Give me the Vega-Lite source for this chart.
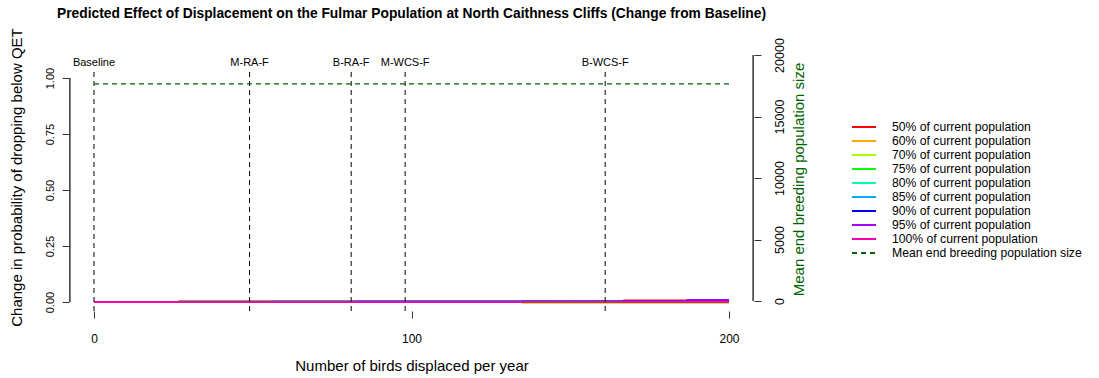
{
  "$schema": "https://vega.github.io/schema/vega-lite/v6.json",
  "autosize": {"type": "none"},
  "width": 685,
  "height": 256,
  "padding": {"left": 69, "top": 55, "right": 345, "bottom": 67},
  "config": {
    "font": "Liberation Sans",
    "view": {"stroke": null},
    "axis": {"grid": false, "domain": false, "tickColor": "#333", "tickSize": 7, "tickWidth": 1, "labelColor": "#000", "labelFontSize": 11, "titleFontSize": 14, "titleFontWeight": "normal", "titleColor": "#000", "labelFont": "Liberation Sans", "titleFont": "Liberation Sans"}
  },
  "title": {"text": "Predicted Effect of Displacement on the Fulmar Population at North Caithness Cliffs (Change from Baseline)", "fontSize": 13.8, "fontWeight": "bold", "font": "Liberation Sans", "anchor": "middle", "offset": 7, "color": "#000"},
  "datasets": {
    "prob": [
      {"x": 0, "v": 0, "series": "50% of current population"},
      {"x": 27, "v": 0.005, "series": "50% of current population"},
      {"x": 56, "v": 0, "series": "50% of current population"},
      {"x": 83, "v": 0.002, "series": "50% of current population"},
      {"x": 135, "v": 0.002, "series": "50% of current population"},
      {"x": 167, "v": 0.007, "series": "50% of current population"},
      {"x": 187, "v": 0.006, "series": "50% of current population"},
      {"x": 200, "v": 0.006, "series": "50% of current population"},
      {"x": 0, "v": 0, "series": "60% of current population"},
      {"x": 27, "v": 0.002, "series": "60% of current population"},
      {"x": 56, "v": 0.004, "series": "60% of current population"},
      {"x": 83, "v": 0.002, "series": "60% of current population"},
      {"x": 135, "v": 0.002, "series": "60% of current population"},
      {"x": 167, "v": 0.003, "series": "60% of current population"},
      {"x": 187, "v": 0.003, "series": "60% of current population"},
      {"x": 200, "v": 0.003, "series": "60% of current population"},
      {"x": 0, "v": 0, "series": "70% of current population"},
      {"x": 27, "v": 0.001, "series": "70% of current population"},
      {"x": 56, "v": 0.002, "series": "70% of current population"},
      {"x": 83, "v": 0.002, "series": "70% of current population"},
      {"x": 135, "v": -0.004, "series": "70% of current population"},
      {"x": 167, "v": -0.004, "series": "70% of current population"},
      {"x": 187, "v": -0.004, "series": "70% of current population"},
      {"x": 200, "v": -0.004, "series": "70% of current population"},
      {"x": 0, "v": 0, "series": "75% of current population"},
      {"x": 27, "v": 0.001, "series": "75% of current population"},
      {"x": 56, "v": 0.002, "series": "75% of current population"},
      {"x": 83, "v": 0.005, "series": "75% of current population"},
      {"x": 135, "v": 0.005, "series": "75% of current population"},
      {"x": 167, "v": 0.005, "series": "75% of current population"},
      {"x": 187, "v": 0.005, "series": "75% of current population"},
      {"x": 200, "v": 0.005, "series": "75% of current population"},
      {"x": 0, "v": 0, "series": "80% of current population"},
      {"x": 27, "v": 0.001, "series": "80% of current population"},
      {"x": 56, "v": 0.001, "series": "80% of current population"},
      {"x": 83, "v": 0.003, "series": "80% of current population"},
      {"x": 135, "v": 0.003, "series": "80% of current population"},
      {"x": 167, "v": 0.004, "series": "80% of current population"},
      {"x": 187, "v": 0.004, "series": "80% of current population"},
      {"x": 200, "v": 0.004, "series": "80% of current population"},
      {"x": 0, "v": 0, "series": "85% of current population"},
      {"x": 27, "v": 0.001, "series": "85% of current population"},
      {"x": 56, "v": 0.001, "series": "85% of current population"},
      {"x": 83, "v": 0.002, "series": "85% of current population"},
      {"x": 135, "v": 0.002, "series": "85% of current population"},
      {"x": 167, "v": 0.004, "series": "85% of current population"},
      {"x": 187, "v": 0.006, "series": "85% of current population"},
      {"x": 200, "v": 0.006, "series": "85% of current population"},
      {"x": 0, "v": 0, "series": "90% of current population"},
      {"x": 27, "v": 0, "series": "90% of current population"},
      {"x": 56, "v": 0.001, "series": "90% of current population"},
      {"x": 83, "v": 0.001, "series": "90% of current population"},
      {"x": 135, "v": 0.002, "series": "90% of current population"},
      {"x": 167, "v": 0.004, "series": "90% of current population"},
      {"x": 187, "v": 0.008, "series": "90% of current population"},
      {"x": 200, "v": 0.008, "series": "90% of current population"},
      {"x": 0, "v": 0, "series": "95% of current population"},
      {"x": 27, "v": 0, "series": "95% of current population"},
      {"x": 56, "v": 0, "series": "95% of current population"},
      {"x": 83, "v": 0.001, "series": "95% of current population"},
      {"x": 135, "v": 0.001, "series": "95% of current population"},
      {"x": 167, "v": 0.003, "series": "95% of current population"},
      {"x": 187, "v": 0.007, "series": "95% of current population"},
      {"x": 200, "v": 0.007, "series": "95% of current population"},
      {"x": 0, "v": 0, "series": "100% of current population"},
      {"x": 27, "v": 0, "series": "100% of current population"},
      {"x": 56, "v": 0, "series": "100% of current population"},
      {"x": 83, "v": 0, "series": "100% of current population"},
      {"x": 135, "v": 0, "series": "100% of current population"},
      {"x": 167, "v": 0, "series": "100% of current population"},
      {"x": 187, "v": 0, "series": "100% of current population"},
      {"x": 200, "v": 0, "series": "100% of current population"}
    ],
    "scenarios": [
      {"x": 0, "label": "Baseline"},
      {"x": 49, "label": "M-RA-F"},
      {"x": 81, "label": "B-RA-F"},
      {"x": 98, "label": "M-WCS-F"},
      {"x": 161, "label": "B-WCS-F"}
    ],
    "pop": [
      {"x": 0, "n": 17650, "series": "Mean end breeding population size"},
      {"x": 200, "n": 17650, "series": "Mean end breeding population size"}
    ]
  },
  "resolve": {"scale": {"y": "independent"}},
  "layer": [
    {
      "layer": [
        {
          "data": {"name": "prob"},
          "mark": {"type": "line", "strokeWidth": 2, "interpolate": "step-after", "clip": false},
          "encoding": {
            "x": {"field": "x", "type": "quantitative", "scale": {"domain": [-7.874, 207.874], "nice": false, "zero": false}, "axis": {"values": [0, 100, 200], "title": "Number of birds displaced per year", "labelFontSize": 12, "titleFontSize": 15, "labelPadding": 15, "titlePadding": 14}},
            "y": {"field": "v", "type": "quantitative", "scale": {"domain": [-0.04, 1.102857], "nice": false, "zero": false}, "axis": {"orient": "left", "values": [0, 0.25, 0.5, 0.75, 1], "format": ".2f", "labelAngle": -90, "labelAlign": "center", "labelBaseline": "bottom", "labelPadding": 7, "title": "Change in probability of dropping below QET", "titleFontSize": 15, "titlePadding": 20, "titleY": 122}},
            "color": {"field": "series", "type": "nominal", "scale": {"domain": ["50% of current population", "60% of current population", "70% of current population", "75% of current population", "80% of current population", "85% of current population", "90% of current population", "95% of current population", "100% of current population", "Mean end breeding population size"], "range": ["#FF0000", "#FFAA00", "#AAFF00", "#00FF00", "#00FFAA", "#00AAFF", "#0000FF", "#AA00FF", "#FF00AA", "#006400"]}, "legend": {"title": null, "orient": "none", "legendX": 788, "legendY": 65, "symbolType": "M-2,0H2", "symbolSize": 144, "symbolStrokeWidth": 2, "labelFontSize": 12.2, "labelColor": "#000", "rowPadding": 0, "labelOffset": 21, "labelLimit": 300}},
            "strokeDash": {"field": "series", "type": "nominal", "scale": {"domain": ["50% of current population", "60% of current population", "70% of current population", "75% of current population", "80% of current population", "85% of current population", "90% of current population", "95% of current population", "100% of current population", "Mean end breeding population size"], "range": [[1, 0], [1, 0], [1, 0], [1, 0], [1, 0], [1, 0], [1, 0], [1, 0], [1, 0], [5, 4]]}, "legend": {"title": null}},
            "order": {"field": "x", "type": "quantitative"}
          }
        },
        {
          "data": {"name": "scenarios"},
          "mark": {"type": "rule", "strokeDash": [5, 4], "color": "#000", "strokeWidth": 1},
          "encoding": {
            "x": {"field": "x", "type": "quantitative"},
            "y": {"datum": -0.04},
            "y2": {"datum": 1.045}
          }
        },
        {
          "data": {"name": "scenarios"},
          "mark": {"type": "text", "fontSize": 11, "color": "#000", "baseline": "middle", "align": "center"},
          "encoding": {
            "x": {"field": "x", "type": "quantitative"},
            "y": {"datum": 1.067},
            "text": {"field": "label"}
          }
        },
        {
          "data": {"values": [{"ax": -7.6, "lo": 0, "hi": 1}]},
          "mark": {"type": "rule", "color": "#333", "strokeWidth": 1.5},
          "encoding": {
            "x": {"field": "ax", "type": "quantitative"},
            "y": {"field": "lo", "type": "quantitative"},
            "y2": {"field": "hi"}
          }
        },
        {
          "mark": {"type": "rule", "color": "#333", "strokeWidth": 1},
          "encoding": {
            "x": {"datum": 0},
            "x2": {"datum": 200},
            "y": {"datum": -0.04}
          }
        }
      ]
    },
    {
      "layer": [
        {
          "data": {"name": "pop"},
          "mark": {"type": "line", "strokeWidth": 1.3},
          "encoding": {
            "x": {"field": "x", "type": "quantitative"},
            "y": {"field": "n", "type": "quantitative", "scale": {"domain": [-813, 20000], "nice": false, "zero": false}, "axis": {"orient": "right", "values": [0, 5000, 10000, 15000, 20000], "format": "d", "labelAngle": -90, "labelAlign": "center", "labelBaseline": "top", "labelFontSize": 12.5, "labelPadding": 12, "title": "Mean end breeding population size", "titleFontSize": 15, "titleColor": "#006400", "titleAngle": -90, "titleBaseline": "top", "titlePadding": 6, "titleY": 124}},
            "color": {"field": "series", "type": "nominal"},
            "strokeDash": {"field": "series", "type": "nominal"}
          }
        },
        {
          "data": {"values": [{"ax": 207.6, "lo": 0, "hi": 20000}]},
          "mark": {"type": "rule", "color": "#333", "strokeWidth": 1.5},
          "encoding": {
            "x": {"field": "ax", "type": "quantitative"},
            "y": {"field": "lo", "type": "quantitative"},
            "y2": {"field": "hi"}
          }
        }
      ]
    }
  ]
}
